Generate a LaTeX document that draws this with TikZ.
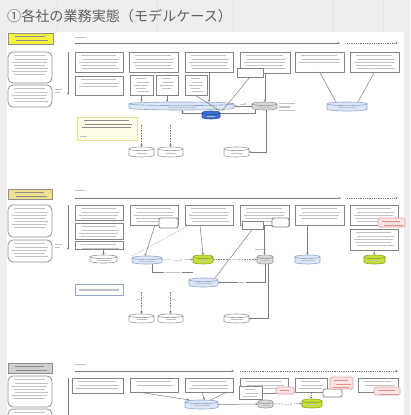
\documentclass[tikz,border=0pt]{standalone}
\usepackage{fontspec}
\newfontfamily\jpfont{Noto Sans CJK JP}
\usetikzlibrary{arrows.meta,fit,calc}
\definecolor{bgc}{HTML}{EEEEEE}
\definecolor{gridc}{HTML}{E3E3E3}
\definecolor{boxc}{HTML}{858585}
\definecolor{rboxc}{HTML}{909090}
\definecolor{txtc}{HTML}{C2C2C2}
\definecolor{darkt}{HTML}{8C8C8C}
\definecolor{linec}{HTML}{7E7E7E}
\definecolor{ylw}{HTML}{F4F23E}
\definecolor{khaki}{HTML}{EDE08E}
\definecolor{lgrayc}{HTML}{D0D0D0}
\definecolor{labd}{HTML}{8E8E8E}
\definecolor{lblue}{HTML}{DCE6F6}
\definecolor{lblued}{HTML}{8FA8D0}
\definecolor{dblue}{HTML}{3D6FD6}
\definecolor{dblued}{HTML}{2A50A8}
\definecolor{gcyl}{HTML}{D9D9D9}
\definecolor{gcyld}{HTML}{9A9A9A}
\definecolor{grn}{HTML}{C5DE3A}
\definecolor{grnd}{HTML}{8BA524}
\definecolor{pnk}{HTML}{FCE4E4}
\definecolor{pnkd}{HTML}{E0A0A0}
\definecolor{pnkt}{HTML}{E89090}
\definecolor{notef}{HTML}{FFFCE8}
\definecolor{noted}{HTML}{EBE08C}
\definecolor{titlec}{HTML}{606060}
\tikzset{
  mklines/.style n args={3}{path picture={\foreach \i in {1,...,#1}{\draw[#2,line width=0.45pt] ([xshift={#3+mod(\i,3)*1.5pt},yshift={-0.6pt-\i*3.1pt}]path picture bounding box.north west) -- ([xshift={-(#3+mod(\i+1,3)*1.5pt)},yshift={-0.6pt-\i*3.1pt}]path picture bounding box.north east);}}},
  tlines/.style={mklines={#1}{txtc}{4pt}},
  rlines/.style={mklines={#1}{pnkt}{2.5pt}},
  dlines/.style={mklines={#1}{darkt}{5pt}},
  bse/.style={inner sep=0pt, outer sep=0pt},
  box/.style={bse, draw=boxc, line width=0.9pt, fill=white},
  rbox/.style={bse, draw=rboxc, line width=0.8pt, fill=white, rounded corners=5pt},
  lab/.style={bse, draw=labd, line width=0.7pt},
  notebox/.style={bse, draw=noted, line width=1pt, fill=notef},
  pnote/.style={bse, draw=pnkd, line width=0.7pt, fill=pnk, rounded corners=1.5pt},
  wbox/.style={bse, draw=boxc, line width=0.8pt, fill=white, rounded corners=2pt},
  cylnode/.style={bse},
  conn/.style={draw=linec, line width=0.5pt},
  arr/.style={conn, -{Stealth[length=2.6pt,width=2.2pt]}},
  dshl/.style={dash pattern=on 1.6pt off 1pt},
  dotl/.style={dash pattern=on 0.6pt off 1.2pt},
  lbl/.style={bse, fill=white, minimum width=#1, minimum height=3pt, path picture={\draw[txtc,line width=0.5pt] ([xshift=1pt]path picture bounding box.west) -- ([xshift=-1pt]path picture bounding box.east);}},
}
\newcommand\drum[4]{%
  \draw[fill=#2, draw=#3, line width=0.6pt] let \p1=(#1.north west), \p2=(#1.south east), \n1={(\x2-\x1)/2} in
    (\x1,\y1-1.8pt) -- (\x1,\y2+1.8pt) arc[start angle=180, end angle=360, x radius=\n1, y radius=1.8pt] -- (\x2,\y1-1.8pt) arc[start angle=0, end angle=180, x radius=\n1, y radius=1.8pt] -- cycle
    (\x1,\y1-1.8pt) arc[start angle=180, end angle=360, x radius=\n1, y radius=1.8pt];
  \draw[txtc, line width=0.6pt] ([xshift=-#4, yshift=-1.2pt]#1.center) -- ([xshift=#4, yshift=-1.2pt]#1.center);
}
\begin{document}
\begin{tikzpicture}[x=1pt,y=-1pt]
\useasboundingbox (0,0) rectangle (410,415);
\clip (0,0) rectangle (410,415);
\fill[bgc] (0,0) rectangle (410,415);
\foreach \gx in {57,157,233,333,383} \draw[gridc, line width=0.5pt] (\gx,0) -- (\gx,32);
\fill[white] (7,32) rectangle (404,420);
\node[anchor=west, inner sep=0pt, text=titlec, font={\jpfont\fontsize{14.1}{15}\selectfont}] (title) at (7,16.5) {①各社の業務実態（モデルケース）};

% ================= Section 1 =================
\node[lab, fill=ylw, dlines=2, fit={(8,33)(53,44)}] (lab1) {};
\node[rbox, tlines=7, fit={(8,52)(52,83)}] (r1a) {};
\node[rbox, tlines=5, fit={(8,85)(52,107)}] (r1b) {};
\coordinate (v1s) at (68,52); \coordinate (v1e) at (68,95);
\draw[arr] (v1s) -- (v1e);
\draw[txtc, line width=0.5pt] (55,89) -- (62,89) (55,92) -- (60,92);
\draw[txtc, line width=0.5pt] (75,37) -- (86,37);
\coordinate (t1a) at (75,43); \coordinate (t1b) at (340,43);
\coordinate (t1c) at (347,43); \coordinate (t1d) at (398,43);
\draw[arr] (t1a) -- (t1b);
\draw[arr, dotl] (t1c) -- (t1d);

\node[box, tlines=5, fit={(75,52)(123,72)}] (b11) {};
\node[box, tlines=5, fit={(129,52)(178,72)}] (b12) {};
\node[box, tlines=5, fit={(185,52)(233,72)}] (b13) {};
\node[box, tlines=5, fit={(240,52)(290,73)}] (b14) {};
\node[box, tlines=3, fit={(295,52)(344,72)}] (b15) {};
\node[box, tlines=5, fit={(350,52)(399,72)}] (b16) {};
\node[box, tlines=3, fit={(75,76)(123,95)}] (s11) {};
\node[box, tlines=5, fit={(130,75)(153,95)}] (s12a) {};
\node[box, tlines=4, fit={(156,75)(178,95)}] (s12b) {};
\node[box, tlines=5, fit={(185,75)(207,95)}] (s13) {};
\node[box, fit={(237,68)(263,77)}] (s14) {};

\node[cylnode, fit={(129,102)(234,110)}] (db1) {};
\node[cylnode, fit={(202,111)(220,119)}] (d1) {};
\node[cylnode, fit={(252,102)(277,110)}] (g1) {};
\node[cylnode, fit={(327,102)(367,111)}] (lb1) {};
\node[cylnode, fit={(129,147)(154,157)}] (c1) {};
\node[cylnode, fit={(158,147)(183,157)}] (c2) {};
\node[cylnode, fit={(224,147)(249,157)}] (c3) {};
\drum{db1}{lblue}{lblued}{14pt}
\drum{g1}{gcyl}{gcyld}{6pt}
\drum{lb1}{lblue}{lblued}{9pt}
\drum{c1}{white}{gcyld}{5pt}
\drum{c2}{white}{gcyld}{5pt}
\drum{c3}{white}{gcyld}{6pt}
\draw[txtc, line width=1.2pt] (279,103.5) -- (295,103.5) (279,107) -- (290,107) (279,110.5) -- (295,110.5);

\node[notebox, dlines=3, fit={(77,117)(137,140)}] (n1) {};
\draw[txtc, line width=0.5pt] (80,136) -- (87,136);

\draw[conn] (b15.south) -- ([xshift=-11pt]lb1.north);
\draw[conn] (b16.south) -- ([xshift=11pt]lb1.north);
\draw[arr] (s12a.south) -- (s12a.south |- db1.north);
\draw[arr] (s12b.south) -- (s12b.south |- db1.north);
\draw[arr] (b13.south) -- (b13.south |- db1.north);
\draw[conn] ([xshift=-1pt]s13.south) -- ([xshift=9pt]d1.north);
\draw[conn] (s14.south) -- ([xshift=11pt]d1.north);
\draw[arr] (b14.south) -- (b14.south |- g1.north);
\draw[arr] (g1.west) -- (db1.east) node[midway, above=0.5pt, lbl=9pt] (l11) {};
\draw[arr] ([xshift=3pt]g1.south west) |- ([xshift=1pt,yshift=-3.5pt]db1.south) -- ([xshift=1pt]db1.south);
\coordinate (c1t) at (141.5,125); \coordinate (c2t) at (170.5,125);
\draw[arr, dshl] (c1t) -- (c1.north);
\draw[arr, dshl] (c2t) -- (c2.north);
\draw[arr] ([xshift=2pt]g1.south) |- (c3.east);
\drum{d1}{dblue}{dblued}{4pt}

% ================= Section 2 =================
\node[lab, fill=khaki, dlines=2, fit={(8,189)(52,199)}] (lab2) {};
\node[rbox, tlines=7, fit={(8,205)(52,237)}] (r2a) {};
\node[rbox, tlines=5, fit={(8,240)(52,262)}] (r2b) {};
\coordinate (v2s) at (68,205); \coordinate (v2e) at (68,250);
\draw[arr] (v2s) -- (v2e);
\draw[txtc, line width=0.5pt] (55,244) -- (62,244) (55,247) -- (60,247);
\draw[txtc, line width=0.5pt] (75,190) -- (86,190);
\coordinate (t2a) at (75,198); \coordinate (t2b) at (341,198);
\coordinate (t2c) at (347,198); \coordinate (t2d) at (398,198);
\draw[arr] (t2a) -- (t2b);
\draw[arr, dotl] (t2c) -- (t2d);

\node[box, tlines=4, fit={(75,205)(123,220)}] (b21) {};
\node[box, tlines=4, fit={(75,223)(123,239)}] (b21b) {};
\node[box, tlines=2, fit={(75,241)(123,249)}] (b21c) {};
\node[box, tlines=5, fit={(130,205)(178,225)}] (b22) {};
\node[wbox, fit={(159,218)(178,228)}] (w22) {};
\node[box, tlines=5, fit={(185,205)(233,225)}] (b23) {};
\node[box, tlines=5, fit={(240,205)(289,225)}] (b24) {};
\node[box, fit={(242,221)(263,229)}] (s24) {};
\node[wbox, fit={(272,218)(289,227)}] (w24) {};
\node[box, tlines=4, fit={(295,205)(344,225)}] (b25) {};
\node[box, tlines=5, fit={(350,205)(398,225)}] (b26) {};
\node[box, tlines=5, fit={(350,229)(398,250)}] (b26b) {};
\node[pnote, rlines=2, fit={(378,218)(405,227)}] (p26) {};

\node[cylnode, fit={(90,255)(117,263)}] (wc2) {};
\node[cylnode, fit={(132,256)(162,264)}] (lbc2) {};
\node[cylnode, fit={(193,255)(213,264)}] (gc2) {};
\node[cylnode, fit={(257,255)(273,264)}] (gr2) {};
\node[cylnode, fit={(295,255)(320,264)}] (lb25) {};
\node[cylnode, fit={(364,255)(385,264)}] (gc26) {};
\node[cylnode, fit={(189,278)(218,287)}] (dbc2) {};
\node[cylnode, fit={(129,314)(154,323)}] (c21) {};
\node[cylnode, fit={(158,314)(183,323)}] (c22) {};
\node[cylnode, fit={(224,314)(249,323)}] (c23) {};
\drum{wc2}{white}{gcyld}{7pt}
\drum{lbc2}{lblue}{lblued}{8pt}
\drum{gc2}{grn}{grnd}{4pt}
\drum{gr2}{gcyl}{gcyld}{4pt}
\drum{lb25}{lblue}{lblued}{7pt}
\drum{gc26}{grn}{grnd}{4pt}
\drum{dbc2}{lblue}{lblued}{8pt}
\drum{c21}{white}{gcyld}{5pt}
\drum{c22}{white}{gcyld}{5pt}
\drum{c23}{white}{gcyld}{6pt}
\node[bse, draw=lblued, line width=0.8pt, fill=white, fit={(75,284)(123,295)}] (lbx) {};
\draw[txtc, line width=2pt] (79,289.5) -- (119,289.5);
\draw[txtc, line width=1pt] (255,249.5) -- (266,249.5);

\draw[arr] (wc2.north |- b21c.south) -- (wc2.north);
\draw[arr] ([xshift=1pt]b22.south) -- ([xshift=-2pt]lbc2.north);
\draw[conn, dotl] ([xshift=5pt]b23.south west) -- (lbc2.north west);
\draw[arr] ([xshift=-9pt]b23.south) -- (gc2.north);
\draw[arr, dshl] (lbc2.east) -- (gc2.west) node[midway, lbl=12pt] (l21) {};
\draw[arr, dshl] (gc2.east) -- (gr2.west) node[midway, lbl=14pt] (l22) {};
\coordinate (fb2) at (193,272);
\draw[conn] ([xshift=5pt]lbc2.south) |- (fb2) node[pos=0.75, lbl=18pt] (l23) {};
\draw[conn] (s24.south) -- ([xshift=11.5pt]dbc2.north);
\draw[arr] (b24.south) -- (b24.south |- gr2.north);
\draw[arr] (gr2.south) |- (dbc2.east) node[pos=0.75, lbl=8pt] (l24) {};
\draw[arr] (lb25.north |- b25.south) -- (lb25.north);
\draw[arr] (b26b.south) -- (gc26.north);
\draw[arr] ([xshift=3pt]gr2.south) |- (c23.east);
\coordinate (c21t) at (141.5,292); \coordinate (c22t) at (170.5,292);
\draw[arr, dshl] (c21t) -- (c21.north);
\draw[arr, dshl] (c22t) -- (c22.north);

% ================= Section 3 =================
\node[lab, fill=lgrayc, dlines=2, fit={(8,363)(52,373)}] (lab3) {};
\node[rbox, tlines=7, fit={(8,376)(52,407)}] (r3a) {};
\node[rbox, tlines=2, fit={(8,409)(52,430)}] (r3b) {};
\coordinate (v3s) at (68,378); \coordinate (v3e) at (68,420);
\draw[conn] (v3s) -- (v3e);
\draw[txtc, line width=0.5pt] (75,364) -- (86,364);
\coordinate (t3a) at (75,371); \coordinate (t3b) at (234,371);
\coordinate (t3c) at (240,371); \coordinate (t3d) at (398,371);
\draw[arr] (t3a) -- (t3b);
\draw[arr, dotl] (t3c) -- (t3d);

\node[box, tlines=3, fit={(72,378)(123,393)}] (b31) {};
\node[box, tlines=2, fit={(130,378)(178,392)}] (b32) {};
\node[box, tlines=3, fit={(185,378)(233,392)}] (b33) {};
\node[box, tlines=3, fit={(240,378)(288,393)}] (b34) {};
\node[box, tlines=3, fit={(239,386)(262,399)}] (w34) {};
\node[pnote, rlines=2, fit={(276,387)(294,394)}] (p34) {};
\node[box, tlines=3, fit={(295,378)(327,392)}] (b35) {};
\node[wbox, fit={(323,389)(342,397)}] (w35) {};
\node[pnote, rlines=3, fit={(330,377)(353,389)}] (p35) {};
\node[box, tlines=2, fit={(358,378)(398,392)}] (b36) {};
\node[pnote, rlines=2, fit={(374,387)(400,395)}] (p36) {};

\node[cylnode, fit={(185,400)(218,409)}] (db3) {};
\node[cylnode, fit={(258,400)(273,408)}] (gr3) {};
\node[cylnode, fit={(302,399)(322,408)}] (gc3) {};
\drum{db3}{lblue}{lblued}{8pt}
\drum{gr3}{gcyl}{gcyld}{4pt}
\drum{gc3}{grn}{grnd}{4pt}

\draw[arr] ([xshift=-16pt]b32.south) -- ([xshift=-12pt]db3.north);
\draw[arr] ([xshift=-7pt]b33.south) -- ([xshift=3pt]db3.north);
\draw[conn] ([xshift=18pt]b33.south) -- ([xshift=9pt]db3.north);
\draw[arr] (db3.east) -- (gr3.west);
\draw[arr, dshl] (gr3.east) -- (gc3.west) node[midway, lbl=12pt] (l31) {};
\draw[arr, dshl] (b35.south) -- (b35.south |- gc3.north);
\end{tikzpicture}
\end{document}
